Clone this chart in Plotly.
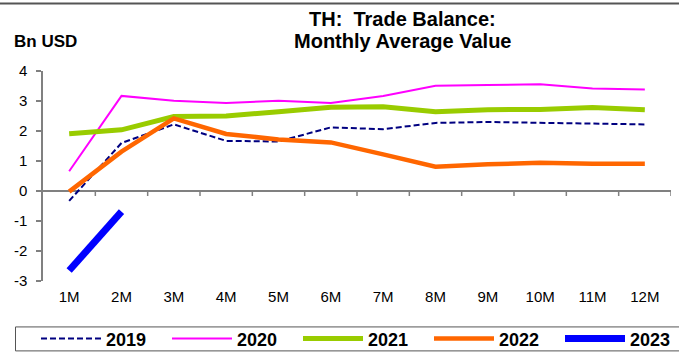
import plotly.graph_objects as go

# Monthly average trade balance, Thailand (Bn USD)
months = ["1M", "2M", "3M", "4M", "5M", "6M", "7M", "8M", "9M", "10M", "11M", "12M"]
y2019 = [-0.33, 1.60, 2.22, 1.67, 1.65, 2.12, 2.06, 2.27, 2.30, 2.28, 2.25, 2.22]
y2020 = [0.66, 3.17, 3.01, 2.93, 3.01, 2.93, 3.17, 3.51, 3.53, 3.56, 3.42, 3.38]
y2021 = [1.91, 2.04, 2.48, 2.50, 2.64, 2.79, 2.81, 2.64, 2.71, 2.72, 2.78, 2.71]
y2022 = [-0.02, 1.31, 2.42, 1.90, 1.72, 1.62, 1.22, 0.81, 0.89, 0.94, 0.91, 0.91]
y2023 = [-2.65, -0.69]
y_ticks = [-3, -2, -1, 0, 1, 2, 3, 4]
title_lines = ["TH:\u00a0 Trade Balance:", "Monthly Average Value"]

FONT = "Liberation Sans, Arial, sans-serif"
AXIS_GREY = "#808080"

W, H = 679, 354
ML, MR, MT, MB = 43, 8, 70.7, 73
PW, PH = W - ML - MR, H - MT - MB


def px_x(p):
    return (p - ML) / PW


def px_y(p):
    return (H - MB - p) / PH


xpos = list(range(1, len(months) + 1))

series = [
    ("2019", y2019, dict(color="#000080", width=2, dash="6px,3px")),
    ("2020", y2020, dict(color="#FF00FF", width=2)),
    ("2021", y2021, dict(color="#99CC00", width=5)),
    ("2022", y2022, dict(color="#FF6600", width=4.5)),
    ("2023", y2023, dict(color="#0000FF", width=7)),
]

fig = go.Figure()
for name, vals, line in series:
    fig.add_trace(go.Scatter(
        x=xpos[:len(vals)], y=vals, name=name, mode="lines",
        line=dict(**line), hoverinfo="skip",
    ))

shapes = []
# tick marks on the zero line at category boundaries
for i in range(1, len(months) + 1):
    shapes.append(dict(type="line", xref="x", yref="y",
                       x0=i + 0.5, x1=i + 0.5, y0=0, y1=-5 / 30.05,
                       line=dict(color=AXIS_GREY, width=1.5)))
# frame line across the top
shapes.append(dict(type="line", xref="paper", yref="paper",
                   x0=px_x(-5), x1=px_x(W + 5), y0=px_y(3), y1=px_y(3),
                   line=dict(color="#555555", width=2)))
# legend box
shapes.append(dict(type="rect", xref="paper", yref="paper",
                   x0=px_x(15.5), x1=px_x(W + 20), y0=px_y(351), y1=px_y(327),
                   line=dict(color="#555555", width=1), fillcolor="rgba(0,0,0,0)"))

annotations = [
    dict(text=f"<b>{txt}</b>", xref="paper", yref="paper",
         x=px_x(402), y=px_y(cy), xanchor="center", yanchor="middle",
         showarrow=False, font=dict(size=20, family=FONT, color="black"))
    for txt, cy in zip(title_lines, [19, 40.5])
]
annotations.append(dict(
    text="<b>Bn USD</b>", xref="paper", yref="paper",
    x=px_x(12), y=px_y(41), xanchor="left", yanchor="middle",
    showarrow=False, font=dict(size=17, family=FONT, color="black")))

fig.update_layout(
    width=W, height=H,
    margin=dict(l=ML, r=MR, t=MT, b=MB, autoexpand=False),
    paper_bgcolor="white", plot_bgcolor="white",
    font=dict(family=FONT, color="black"),
    xaxis=dict(
        range=[0.5, 12.5], tickvals=xpos, ticktext=months,
        showgrid=False, zeroline=False, showline=False, ticks="",
        tickfont=dict(size=15, family=FONT, color="black"),
        ticklabelstandoff=5,
    ),
    yaxis=dict(
        range=[-3, 4], tickvals=y_ticks, ticktext=[str(v) for v in y_ticks],
        showgrid=False, zeroline=True, zerolinecolor=AXIS_GREY, zerolinewidth=1.5,
        showline=True, linecolor=AXIS_GREY, linewidth=1.5,
        ticks="outside", ticklen=5, tickcolor=AXIS_GREY, tickwidth=1.5,
        tickfont=dict(size=15, family=FONT, color="black"),
        ticklabelstandoff=6,
    ),
    showlegend=True,
    legend=dict(
        orientation="h", x=px_x(36), xanchor="left",
        y=px_y(339), yanchor="middle",
        font=dict(size=18, family=FONT, color="black", weight="bold"),
        itemwidth=60, entrywidth=56, entrywidthmode="pixels",
        bgcolor="rgba(0,0,0,0)", borderwidth=0,
        tracegroupgap=0, itemclick=False,
    ),
    annotations=annotations,
    shapes=shapes,
)

fig.write_html("out.html")
